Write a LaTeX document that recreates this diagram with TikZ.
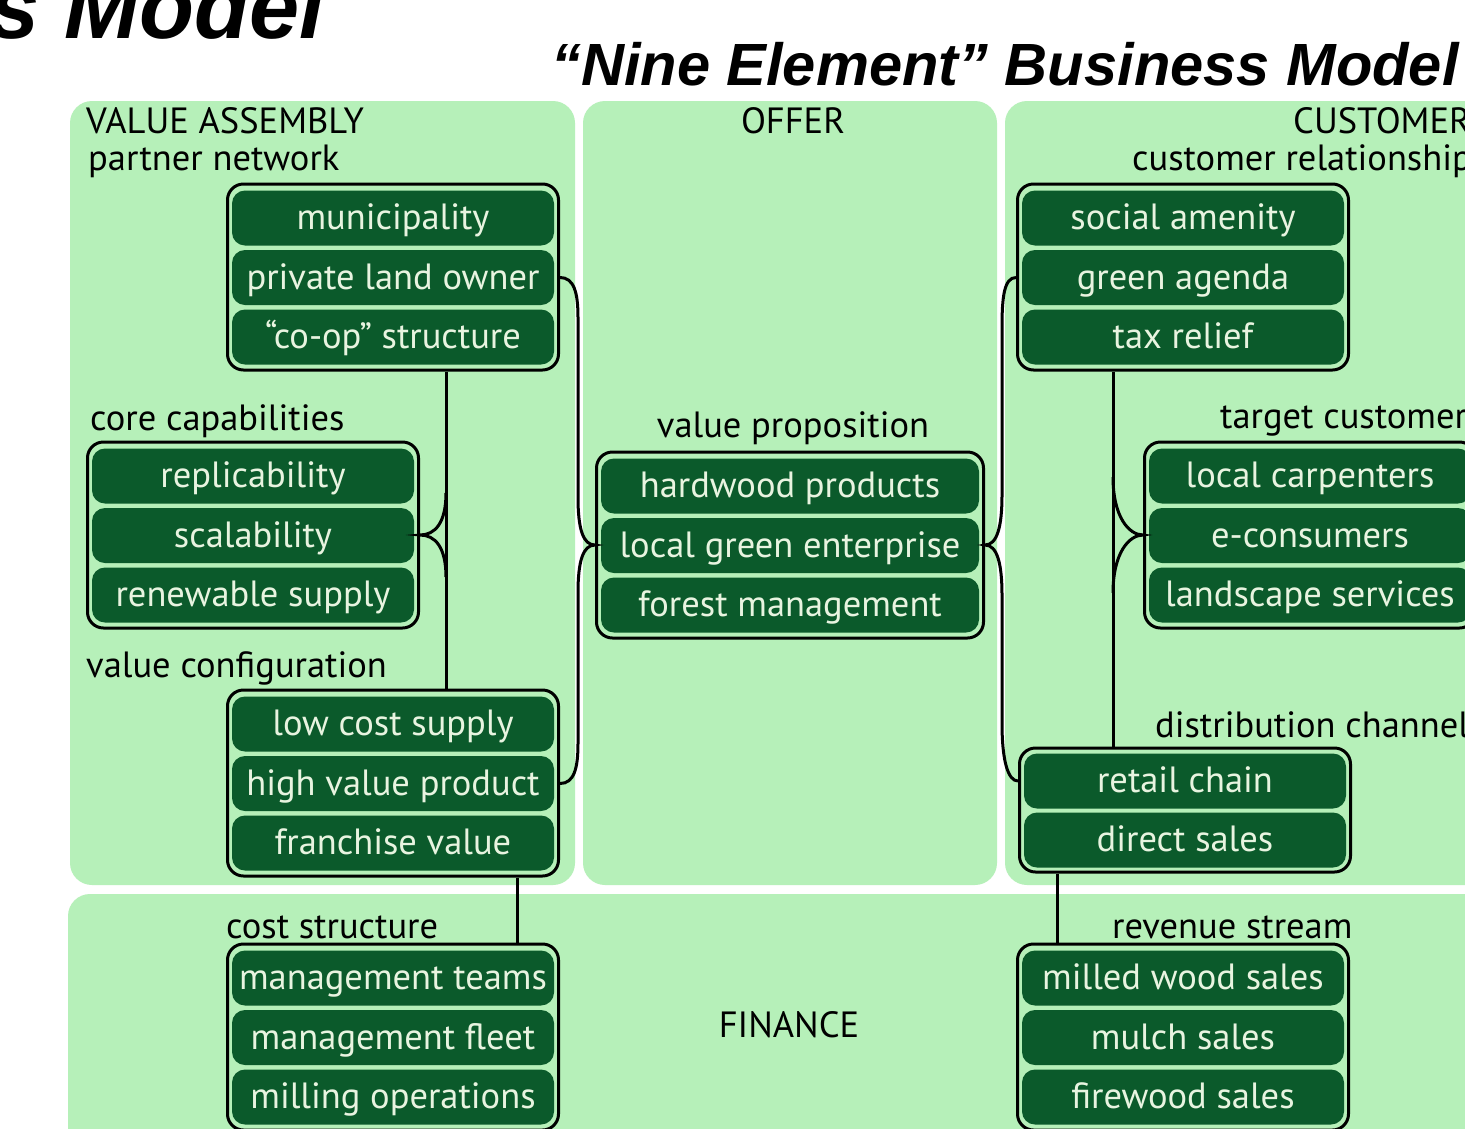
\documentclass[tikz,border=0pt]{standalone}
\usepackage{fontspec}
\setmainfont{PT Sans}
\newfontfamily\titlefont{Liberation Sans}
\usetikzlibrary{calc}
\definecolor{panel}{HTML}{B6F0B9}
\definecolor{dark}{HTML}{0B5A2B}
\definecolor{boxtext}{HTML}{E8F4E0}
\newcommand\threegroup[6]{%
  \node[framebox, minimum height=186pt] (#1) at (#2,#3+93) {};
  \node[itembox] (#1a) at (#2,#3+34) {#4};
  \node[itembox] (#1b) at (#2,#3+93.5) {#5};
  \node[itembox] (#1c) at (#2,#3+153) {#6};
}
\newcommand\twogroup[5]{%
  \node[framebox, minimum height=124pt] (#1) at (#2,#3+62) {};
  \node[itembox] (#1a) at (#2,#3+33) {#4};
  \node[itembox] (#1b) at (#2,#3+92) {#5};
}
\begin{document}
\begin{tikzpicture}[x=1pt,y=-1pt,
  framebox/.style={draw=black, line width=3pt, rounded corners=16pt, fill=panel, minimum width=331pt, inner sep=0pt},
  itembox/.style={fill=dark, rounded corners=13pt, minimum width=322pt, minimum height=55pt, inner sep=0pt,
    text=boxtext, font=\fontsize{36.5}{40}\selectfont, text height=31pt, text depth=8pt},
  lbl/.style={font=\fontsize{36.5}{40}\selectfont, text=black, inner sep=0pt},
  conn/.style={draw=black, line width=3pt},
  ttl/.style={font=\titlefont\bfseries\itshape, text=black, inner sep=0pt}]
\useasboundingbox (0,0) rectangle (1465,1128);
\clip (0,0) rectangle (1465,1128);
\fill[white] (0,0) rectangle (1465,1128);
% panels
\fill[panel, rounded corners=22pt] (70,101) rectangle (575,885);
\fill[panel, rounded corners=22pt] (583,101) rectangle (997,885);
\fill[panel, rounded corners=22pt] (1005,101) rectangle (1520,885);
\fill[panel, rounded corners=22pt] (68,894) rectangle (1520,1170);
% titles
\node[ttl, anchor=base east, font=\titlefont\bfseries\itshape\fontsize{90}{100}\selectfont] (t1) at (325,38) {s Model};
\node[ttl, anchor=base west, font=\titlefont\bfseries\itshape\fontsize{59.6}{70}\selectfont] (t2) at (551,85) {“Nine Element” Business Model};
% labels
\node[lbl, anchor=base west] (l1) at (86,133) {VALUE ASSEMBLY};
\node[lbl, anchor=base west] (l2) at (88,170) {partner network};
\node[lbl, anchor=base] (l3) at (793,133) {OFFER};
\node[lbl, anchor=base west] (l4) at (1293,133) {CUSTOMER};
\node[lbl, anchor=base west] (l5) at (1132,170) {customer relationship};
\node[lbl, anchor=base west] (l6) at (90,430) {core capabilities};
\node[lbl, anchor=base] (l7) at (793,437) {value proposition};
\node[lbl, anchor=base west] (l8) at (1220,428) {target customer};
\node[lbl, anchor=base west] (l9) at (86,677) {value configuration};
\node[lbl, anchor=base west] (l10) at (1155,737) {distribution channel};
\node[lbl, anchor=base west] (l11) at (226,938) {cost structure};
\node[lbl, anchor=base west] (l12) at (1112,938) {revenue stream};
\node[lbl, anchor=base] (l13) at (789,1037) {FINANCE};
% groups
\threegroup{pn}{393}{184}{municipality}{private land owner}{“co-op” structure}
\threegroup{cc}{253}{442}{replicability}{scalability}{renewable supply}
\threegroup{vc}{393}{690}{low cost supply}{high value product}{franchise value}
\node[framebox, minimum width=387pt, minimum height=186pt] (vp) at (790,545) {};
\node[itembox, minimum width=378pt] (vpa) at (790,486) {hardwood products};
\node[itembox, minimum width=378pt] (vpb) at (790,545.5) {local green enterprise};
\node[itembox, minimum width=378pt] (vpc) at (790,605) {forest management};
\threegroup{cr}{1183}{184}{social amenity}{green agenda}{tax relief}
\threegroup{tc}{1310}{442}{local carpenters}{e-consumers}{landscape services}
\twogroup{dc}{1185}{748}{retail chain}{direct sales}
\threegroup{cs}{393}{944}{management teams}{management fleet}{milling operations}
\threegroup{rs}{1183}{944}{milled wood sales}{mulch sales}{firewood sales}
% connectors
\coordinate (xL) at (446,0);
\coordinate (xM) at (578,0);
\coordinate (xR) at (1002,0);
\coordinate (xD) at (1113,0);
\coordinate (xE) at (517,0);
\coordinate (xF) at (1057,0);
\draw[conn] (pn.south -| xL) -- (vc.north -| xL);
\draw[conn] ($(cc.east -| xL)+(0,-42)$) .. controls +(0,30) and +(15,0) .. (cc.east)
  .. controls +(15,0) and +(0,-30) .. ($(cc.east -| xL)+(0,42)$);
\draw[conn] (pn.east |- pnb) .. controls +(14,0) and +(0,-25) .. ($(pnb -| xM)+(0,40)$)
  -- ($(vp.west -| xM)+(0,-48)$) .. controls +(0,32) and +(-12,0) .. (vp.west)
  .. controls +(-12,0) and +(0,-32) .. ($(vp.west -| xM)+(0,48)$)
  -- ($(vcb -| xM)+(0,-40)$) .. controls +(0,25) and +(14,0) .. (vc.east |- vcb);
\draw[conn] (cr.west |- crb) .. controls +(-12,0) and +(0,-30) .. ($(crb -| xR)+(0,50)$)
  -- ($(vp.east -| xR)+(0,-50)$) .. controls +(0,32) and +(12,0) .. (vp.east)
  .. controls +(12,0) and +(0,-32) .. ($(vp.east -| xR)+(0,50)$)
  -- ($(dca -| xR)+(0,-58)$) .. controls +(0,38) and +(-10,0) .. (dc.west |- dca);
\draw[conn] (cr.south -| xD) -- (dc.north -| xD);
\draw[conn] ($(tc.west -| xD)+(0,-58)$) .. controls +(0,40) and +(-14,0) .. (tc.west)
  .. controls +(-14,0) and +(0,-40) .. ($(tc.west -| xD)+(0,58)$);
\draw[conn] (vc.south -| xE) -- (cs.north -| xE);
\draw[conn] (dc.south -| xF) -- (rs.north -| xF);
\end{tikzpicture}
\end{document}
